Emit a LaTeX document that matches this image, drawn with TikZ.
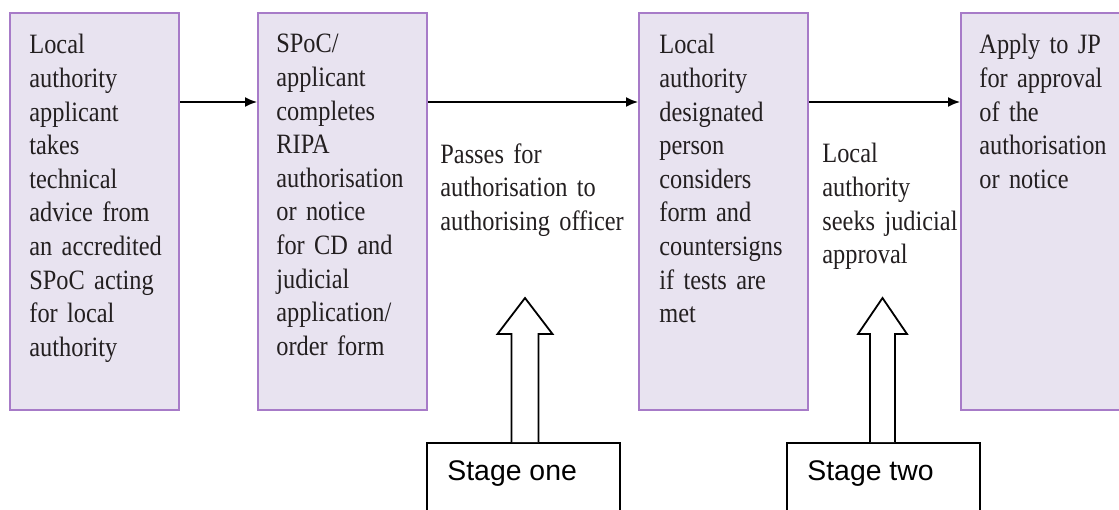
\documentclass[tikz,border=0pt]{standalone}
\usepackage{fontspec}
\setmainfont{Liberation Serif}[FakeStretch=0.87]
\newfontfamily\stagefont{Liberation Sans}
\usetikzlibrary{arrows.meta,positioning,calc}
\definecolor{boxfill}{HTML}{E8E3F0}
\definecolor{boxline}{HTML}{A77BC8}
\definecolor{inktext}{HTML}{231F20}

\begin{document}
\begin{tikzpicture}[
			x=0.5pt, y=-0.5pt,
			stepbox/.style={rectangle, draw=boxline, fill=boxfill, line width=1pt,
				minimum width=84.5pt, minimum height=198.5pt, inner sep=0pt},
			boxtext/.style={anchor=north west, inner sep=0pt, text width=95pt, align=left,
				text=inktext, font=\fontsize{14}{16.8}\selectfont},
			stagebox/.style={rectangle, draw=black, fill=white, line width=0.8pt,
				minimum width=96.5pt, minimum height=45pt, inner sep=0pt, anchor=north west},
			stagetext/.style={anchor=base west, inner sep=0pt, font=\stagefont\fontsize{14.2}{16}\selectfont},
			conn/.style={draw=black, line width=0.8pt, -{Latex[length=6pt,width=5pt]}},
			blockarrow/.style={draw=black, fill=white, line width=0.9pt, line join=miter}
		]
			\useasboundingbox (0,0) rectangle (1119,509);
			% the four steps
			\node[stepbox, anchor=north west] (advice) at (9,12) {};
			\node[stepbox, right=38.5pt of advice] (complete) {};
			\node[stepbox, right=105pt of complete] (consider) {};
			\node[stepbox, right=75.5pt of consider] (apply) {};
			\node[boxtext] (advicetext) at ($(advice.north west)+(20,22)$)
				{Local\\authority\\applicant\\takes\\technical\\advice from\\an accredited\\SPoC acting\\for local\\authority};
			\node[boxtext] (completetext) at ($(complete.north west)+(19,22)$)
				{SPoC/\\applicant\\completes\\RIPA\\authorisation\\or notice\\for CD and\\judicial\\application/\\order form};
			\node[boxtext] (considertext) at ($(consider.north west)+(21,22)$)
				{Local\\authority\\designated\\person\\considers\\form and\\countersigns\\if tests are\\met};
			\node[boxtext] (applytext) at ($(apply.north west)+(19,22)$)
				{Apply to JP\\for approval\\of the\\authorisation\\or notice};
			% links between steps
			\draw[conn] ($(advice.north east)+(0,90)$) -- ($(complete.north west)+(0,90)$);
			\draw[conn] ($(complete.north east)+(0,90)$) -- ($(consider.north west)+(0,90)$);
			\draw[conn] ($(consider.north east)+(0,90)$) -- ($(apply.north west)+(0,90)$);
			\node[boxtext] (passes) at ($(complete.north east)+(12,131)$)
				{Passes for\\authorisation to\\authorising officer};
			\node[boxtext] (seeks) at ($(consider.north east)+(13,131)$)
				{Local\\authority\\seeks judicial\\approval};
			% stages
			\node[stagebox] (stageone) at (426,442) {};
			\node[stagebox] (stagetwo) at (786,442) {};
			\node[stagetext] (stageonetext) at ($(stageone.north west)+(21,38)$) {Stage one};
			\node[stagetext] (stagetwotext) at ($(stagetwo.north west)+(21,38)$) {Stage two};
			\draw[blockarrow] ($(stageone.north west)+(85.5,0)$) -- ++(0,-108) -- ++(-14,0)
				-- ++(27.5,-36) -- ++(27.5,36) -- ++(-14,0) -- ++(0,108);
			\draw[blockarrow] ($(stagetwo.north west)+(84,0)$) -- ++(0,-108) -- ++(-12,0)
				-- ++(24.5,-36) -- ++(24.5,36) -- ++(-12,0) -- ++(0,108);
		\end{tikzpicture}
\end{document}
